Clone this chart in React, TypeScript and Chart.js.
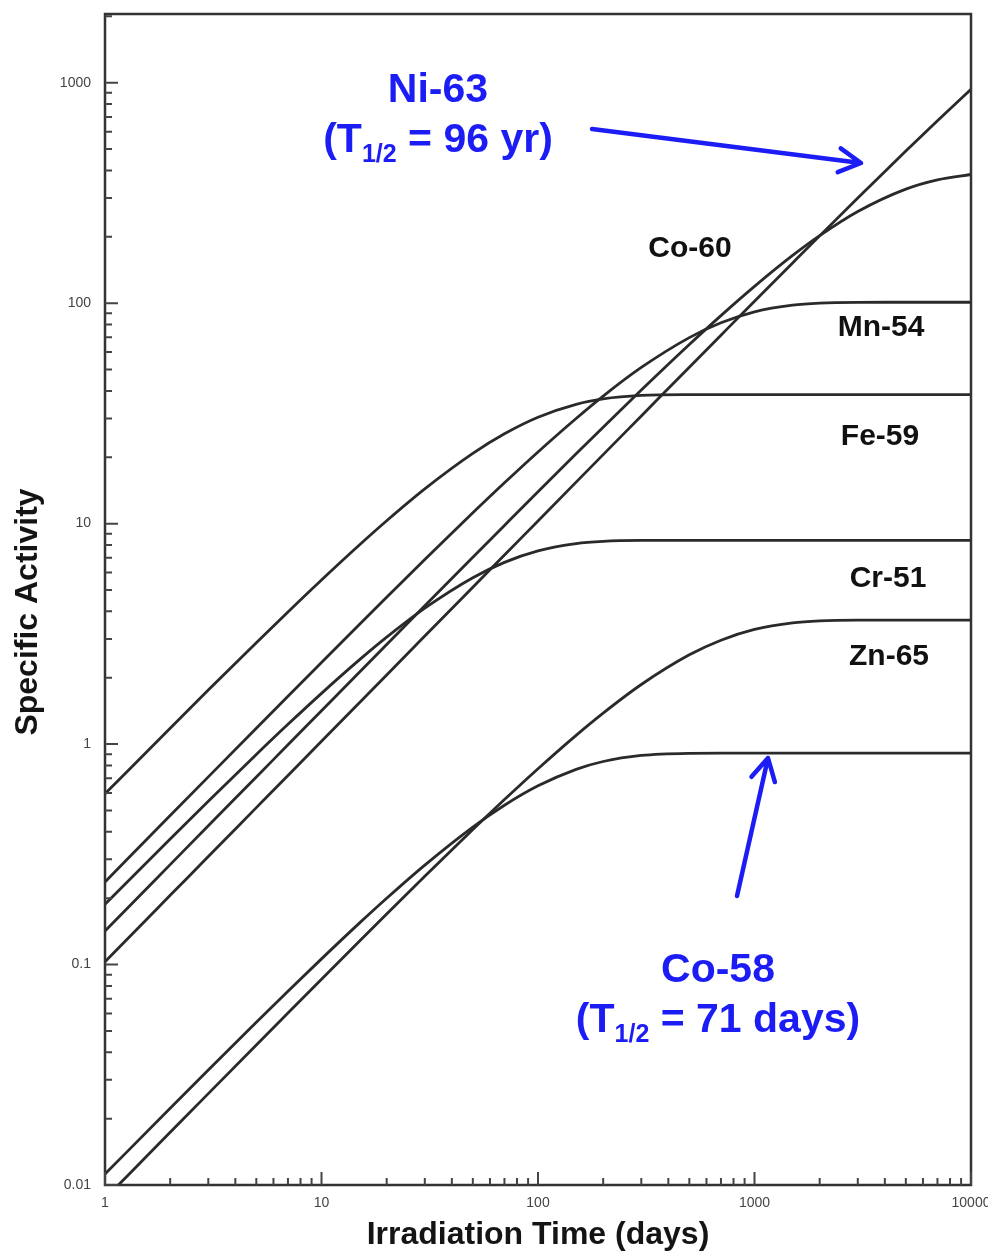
import { useEffect, useRef } from "react";
import { Chart, registerables } from "chart.js";

Chart.register(...registerables);

// ---- Data ----
const timeDays = [1, 2, 3, 5, 7, 10, 15, 20, 30, 50, 70, 100, 150, 200, 300, 500, 700, 1000, 1500, 2000, 3000, 5000, 7000, 10000];

const ni63 = [0.103, 0.206, 0.309, 0.515, 0.721, 1.03, 1.545, 2.06, 3.09, 5.15, 7.2, 10.29, 15.43, 20.56, 30.8, 51.25, 71.6, 102, 152.2, 202, 300, 490, 673, 934];
const co60 = [0.142, 0.284, 0.426, 0.709, 0.993, 1.417, 2.124, 2.829, 4.237, 7.036, 9.815, 13.95, 20.73, 27.4, 40.37, 64.97, 87.85, 119.2, 164.6, 202.4, 260.5, 329.2, 362.7, 383.6];
const mn54 = [0.237, 0.474, 0.71, 1.18, 1.648, 2.346, 3.498, 4.637, 6.875, 11.2, 15.32, 21.15, 30.0, 37.9, 51.1, 69.8, 81.5, 91.4, 98.0, 100.1, 100.9, 101, 101, 101];
const fe59 = [0.595, 1.181, 1.758, 2.885, 3.978, 5.554, 8.023, 10.31, 14.38, 20.83, 25.56, 30.39, 34.78, 36.79, 38.14, 38.48, 38.5, 38.5, 38.5, 38.5, 38.5, 38.5, 38.5, 38.5];
const cr51 = [0.1877, 0.3712, 0.5506, 0.8975, 1.229, 1.699, 2.415, 3.055, 4.136, 5.687, 6.673, 7.523, 8.117, 8.309, 8.39, 8.4, 8.4, 8.4, 8.4, 8.4, 8.4, 8.4, 8.4, 8.4];
const zn65 = [0.00868, 0.01733, 0.02597, 0.04318, 0.06031, 0.08584, 0.128, 0.1697, 0.2515, 0.4095, 0.5601, 0.7731, 1.096, 1.382, 1.863, 2.54, 2.96, 3.312, 3.547, 3.619, 3.647, 3.65, 3.65, 3.65];
const co58 = [0.01121, 0.02229, 0.03323, 0.05471, 0.07566, 0.1061, 0.1545, 0.1999, 0.2827, 0.4205, 0.528, 0.6466, 0.7683, 0.8338, 0.8879, 0.9082, 0.91, 0.91, 0.91, 0.91, 0.91, 0.91, 0.91, 0.91];

const seriesNames = ["Ni-63", "Co-60", "Mn-54", "Fe-59", "Cr-51", "Zn-65", "Co-58"];
const seriesValues = [ni63, co60, mn54, fe59, cr51, zn65, co58];

const xTickValues = [1, 10, 100, 1000, 10000];
const xTickLabels = ["1", "10", "100", "1000", "10000"];
const yTickValues = [0.01, 0.1, 1, 10, 100, 1000];
const yTickLabels = ["0.01", "0.1", "1", "10", "100", "1000"];

const xTitle = "Irradiation Time (days)";
const yTitle = "Specific Activity";

// ---- Styling / annotation layout ----
const W = 988;
const H = 1252;
const LINE = "#2a2a2a";
const BLUE = "#1c1cf5";
const SANS = '"Liberation Sans", Arial, Helvetica, sans-serif';

const curveLabels = [
  { text: "Co-60", x: 690, y: 249 },
  { text: "Mn-54", x: 881, y: 328 },
  { text: "Fe-59", x: 880, y: 437 },
  { text: "Cr-51", x: 888, y: 579 },
  { text: "Zn-65", x: 889, y: 657 },
];

function drawArrow(ctx: CanvasRenderingContext2D, x0: number, y0: number, x1: number, y1: number) {
  const ang = Math.atan2(y1 - y0, x1 - x0);
  const head = 25;
  const spread = 0.5;
  ctx.beginPath();
  ctx.moveTo(x0, y0);
  ctx.lineTo(x1, y1);
  ctx.moveTo(x1 - head * Math.cos(ang - spread), y1 - head * Math.sin(ang - spread));
  ctx.lineTo(x1, y1);
  ctx.lineTo(x1 - head * Math.cos(ang + spread), y1 - head * Math.sin(ang + spread));
  ctx.stroke();
}

function drawHalfLife(ctx: CanvasRenderingContext2D, cx: number, base: number, rest: string, size: number, subSize: number) {
  const big = `bold ${size}px ${SANS}`;
  const small = `bold ${subSize}px ${SANS}`;
  ctx.font = big;
  const w1 = ctx.measureText("(T").width;
  const w3 = ctx.measureText(rest).width;
  ctx.font = small;
  const w2 = ctx.measureText("1/2").width;
  let x = cx - (w1 + w2 + w3) / 2;
  ctx.textAlign = "left";
  ctx.textBaseline = "alphabetic";
  ctx.font = big;
  ctx.fillText("(T", x, base);
  x += w1;
  ctx.font = small;
  ctx.fillText("1/2", x, base + 10);
  x += w2;
  ctx.font = big;
  ctx.fillText(rest, x, base);
}

const overlayPlugin = {
  id: "overlay",
  afterDraw(chart: any) {
    const { ctx, chartArea: a, scales } = chart;
    const xs = scales.x;
    const ys = scales.y;
    ctx.save();

    // frame
    ctx.strokeStyle = "#333";
    ctx.lineWidth = 2.5;
    ctx.strokeRect(a.left, a.top, a.right - a.left, a.bottom - a.top);

    // inner ticks
    ctx.lineWidth = 2;
    ctx.strokeStyle = "#444";
    ctx.beginPath();
    for (let e = -2; e <= 3; e++) {
      for (let m = 1; m <= 9; m++) {
        const v = m * Math.pow(10, e);
        if (v > ys.max) break;
        const py = ys.getPixelForValue(v);
        const len = m === 1 ? 13 : 7;
        ctx.moveTo(a.left, py);
        ctx.lineTo(a.left + len, py);
      }
    }
    for (let e = 0; e <= 4; e++) {
      for (let m = 1; m <= 9; m++) {
        const v = m * Math.pow(10, e);
        if (v > xs.max) break;
        const px = xs.getPixelForValue(v);
        const len = m === 1 ? 13 : 7;
        ctx.moveTo(px, a.bottom);
        ctx.lineTo(px, a.bottom - len);
      }
    }
    ctx.stroke();

    // tick labels
    ctx.fillStyle = "#444";
    ctx.font = `14px ${SANS}`;
    ctx.textAlign = "right";
    ctx.textBaseline = "middle";
    yTickValues.forEach((v, i) => {
      ctx.fillText(yTickLabels[i], a.left - 14, ys.getPixelForValue(v));
    });
    ctx.textAlign = "center";
    xTickValues.forEach((v, i) => {
      ctx.fillText(xTickLabels[i], xs.getPixelForValue(v), a.bottom + 18);
    });

    // axis titles
    ctx.fillStyle = "#141414";
    ctx.font = `bold 32px ${SANS}`;
    ctx.textAlign = "center";
    ctx.textBaseline = "alphabetic";
    ctx.fillText(xTitle, (a.left + a.right) / 2, 1244);
    ctx.save();
    ctx.translate(37, 612);
    ctx.rotate(-Math.PI / 2);
    ctx.fillText(yTitle, 0, 0);
    ctx.restore();

    // curve labels
    ctx.font = `bold 30px ${SANS}`;
    ctx.textBaseline = "middle";
    ctx.fillStyle = "#111";
    curveLabels.forEach((l) => ctx.fillText(l.text, l.x, l.y));

    // blue annotations
    ctx.fillStyle = BLUE;
    ctx.strokeStyle = BLUE;
    ctx.textBaseline = "alphabetic";
    ctx.textAlign = "center";
    ctx.font = `bold 41px ${SANS}`;
    ctx.fillText("Ni-63", 438, 102);
    drawHalfLife(ctx, 438, 152, " = 96 yr)", 41, 25);
    ctx.textAlign = "center";
    ctx.font = `bold 41px ${SANS}`;
    ctx.fillText("Co-58", 718, 982);
    drawHalfLife(ctx, 718, 1032, " = 71 days)", 41, 25);

    ctx.lineWidth = 4.5;
    ctx.lineCap = "round";
    ctx.lineJoin = "round";
    drawArrow(ctx, 592, 129, 861, 163);
    drawArrow(ctx, 737, 896, 768, 758);

    ctx.restore();
  },
};

export default function App() {
  const canvasRef = useRef<HTMLCanvasElement | null>(null);

  useEffect(() => {
    const canvas = canvasRef.current;
    if (!canvas) return;
    const datasets = seriesValues.map((vals, i) => ({
      label: seriesNames[i],
      data: timeDays.map((t, j) => ({ x: t, y: vals[j] })),
      borderColor: LINE,
      borderWidth: 2.8,
      pointRadius: 0,
      fill: false,
      cubicInterpolationMode: "monotone" as const,
    }));
    const chart = new Chart(canvas, {
      type: "line",
      data: { datasets },
      options: {
        responsive: false,
        animation: false,
        devicePixelRatio: 1,
        layout: { padding: { left: 105, right: 17, top: 14, bottom: 67 } },
        plugins: { legend: { display: false }, tooltip: { enabled: false } },
        scales: {
          x: { type: "logarithmic", min: 1, max: 10000, display: false },
          y: { type: "logarithmic", min: 0.01, max: 2050, display: false },
        },
      },
      plugins: [overlayPlugin],
    } as any);
    return () => chart.destroy();
  }, []);

  return (
    <div style={{ position: "absolute", left: 0, top: 0, width: W, height: H, background: "#fff" }}>
      <canvas ref={canvasRef} width={W} height={H} style={{ display: "block", width: W, height: H }} />
    </div>
  );
}
